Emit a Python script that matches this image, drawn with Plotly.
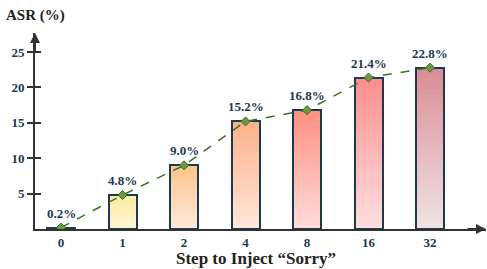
import plotly.graph_objects as go

categories = ["0", "1", "2", "4", "8", "16", "32"]
asr_values = [0.2, 4.8, 9.0, 15.2, 16.8, 21.4, 22.8]
bar_labels = ["0.2%", "4.8%", "9.0%", "15.2%", "16.8%", "21.4%", "22.8%"]
y_tick_vals = [5, 10, 15, 20, 25]

top_colors = ["#fdea9c", "#fdeaa0", "#fdc48a", "#fdb088", "#ff8f82", "#ff8e8e", "#da8c95"]
bottom_colors = ["#fff4d2", "#fff6d8", "#ffeadc", "#ffe8dc", "#ffdcda", "#ffdfdf", "#f0e3e5"]

FONT = "Liberation Serif"
DARK = "#1c3a4e"
AXIS = "#333333"

def hex2rgb(h):
    h = h.lstrip("#")
    return [int(h[i:i + 2], 16) for i in (0, 2, 4)]

def mix(c1, c2, t):
    a, b = hex2rgb(c1), hex2rgb(c2)
    return "rgb(%d,%d,%d)" % tuple(round(a[i] + (b[i] - a[i]) * t) for i in range(3))

x_idx = list(range(len(categories)))
fig = go.Figure()

N = 30
BW = 0.455
for k in range(N):
    t = (k + 0.5) / N  # 0 bottom -> 1 top
    fig.add_trace(go.Bar(
        x=x_idx,
        y=[v / N for v in asr_values],
        base=[v * k / N for v in asr_values],
        width=BW,
        marker=dict(color=[mix(bottom_colors[i], top_colors[i], t) for i in x_idx],
                    line=dict(width=0)),
        hoverinfo="skip", showlegend=False,
    ))

fig.add_trace(go.Bar(
    x=x_idx, y=asr_values, width=BW,
    marker=dict(color="rgba(0,0,0,0)", line=dict(color=DARK, width=2)),
    showlegend=False,
))

fig.add_trace(go.Scatter(
    x=x_idx, y=asr_values, mode="lines+markers",
    line=dict(color="#3f6e2a", width=1.5, dash="dash"),
    marker=dict(symbol="diamond", size=7, color="#6a9a40", line=dict(color="#3f6e2a", width=1)),
    showlegend=False,
))

annotations = []
for i, (v, lab) in enumerate(zip(asr_values, bar_labels)):
    annotations.append(dict(x=i, y=v, text="<b>%s</b>" % lab, showarrow=False,
                            yanchor="bottom", yshift=5,
                            font=dict(family=FONT, size=13, color=DARK)))

# axis arrows
annotations.append(dict(xref="paper", yref="paper", x=0, y=1.0, ax=0, ay=20,
                        showarrow=True, arrowhead=2,
                        arrowsize=1, arrowwidth=2, arrowcolor=AXIS, text=""))
annotations.append(dict(xref="paper", yref="paper", x=1.0, y=0, ax=-20, ay=0,
                        showarrow=True, arrowhead=2,
                        arrowsize=1, arrowwidth=2, arrowcolor=AXIS, text=""))
annotations.append(dict(xref="paper", yref="paper", x=0, y=1.0, xshift=-31, yshift=18,
                        xanchor="left", yanchor="middle", showarrow=False,
                        text="<b>ASR (%)</b>", font=dict(family=FONT, size=15, color="#222")))
annotations.append(dict(xref="paper", yref="paper", x=0.5, y=0, xshift=-5, yshift=-29,
                        xanchor="center", yanchor="middle", showarrow=False,
                        text="<b>Step to Inject “Sorry”</b>",
                        font=dict(family=FONT, size=17, color="#222")))

fig.update_layout(
    width=487, height=269,
    margin=dict(l=35, r=1, t=33, b=40, autoexpand=False),
    plot_bgcolor="white", paper_bgcolor="white",
    barmode="overlay", bargap=0,
    annotations=annotations,
    xaxis=dict(
        range=[-0.423, 6.91], automargin=False,
        tickmode="array", tickvals=x_idx, ticktext=["<b>%s</b>" % c for c in categories],
        tickfont=dict(family=FONT, size=13, color=DARK),
        showline=True, linecolor=AXIS, linewidth=2, ticks="", showgrid=False,
        zeroline=False,
    ),
    yaxis=dict(
        range=[0, 27.7], automargin=False,
        tickmode="array", tickvals=y_tick_vals, ticktext=["<b>%d</b>" % v for v in y_tick_vals],
        tickfont=dict(family=FONT, size=13, color=DARK),
        showline=True, linecolor=AXIS, linewidth=2, ticks="outside", ticklen=6,
        tickwidth=2, tickcolor=AXIS, showgrid=False, zeroline=False,
    ),
    yaxis2=dict(
        range=[0, 27.7], overlaying="y", side="left", anchor="x", automargin=False,
        tickmode="array", tickvals=y_tick_vals, showticklabels=False,
        ticks="inside", ticklen=6, tickwidth=2, tickcolor=AXIS,
        showline=False, showgrid=False, zeroline=False,
    ),
)
fig.add_trace(go.Scatter(x=[None], y=[None], yaxis="y2", showlegend=False))

fig.write_html("out.html", config={"displayModeBar": False},
               post_script="document.body.style.margin='0';document.body.style.overflow='hidden';")
